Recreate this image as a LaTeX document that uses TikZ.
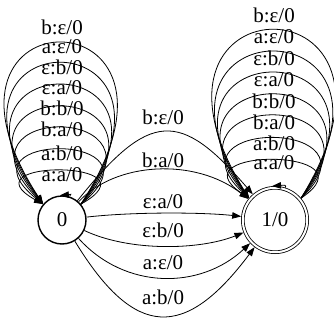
\documentclass[tikz,border=0pt]{standalone}
\usepackage{fontspec}
\setmainfont{Liberation Serif}
\usetikzlibrary{arrows.meta}

\begin{document}
\begin{tikzpicture}[x=1pt, y=1pt,
    state/.style={draw, circle, line width=1.4pt, minimum size=48pt, inner sep=0pt},
    accept/.style={draw, circle, double, double distance=2pt, line width=0.8pt,
      minimum size=64.4pt, outer sep=1.8pt, inner sep=0pt},
    edge/.style={line width=0.8pt, -{Triangle[length=9pt, width=6.5pt]}},
    lbl/.style={inner sep=0pt}]
    \useasboundingbox (0,0) rectangle (334,322);
    \tikzset{every node/.append style={font=\fontsize{21}{22}\selectfont}}

    % States
    \node[state] (s0) at (62,102) {0};
    \node[accept] (s1) at (275,102) {1/0};

    % Boucles sur l'etat 0
    \draw[edge] (s0.72) .. controls +(1,3) and +(12,1) .. (s0.95);
    \foreach \h/\dx in {45/81,73/91,102/101,130/110,159/120,188/130,215/140}
      \draw[edge] (s0.40) .. controls +(\dx,\h) and +(-\dx,\h) .. (s0.140);
    \foreach \lab/\y in {{a:a/0}/147,{a:b/0}/169,{b:a/0}/193,{b:b/0}/214,
                         {ε:a/0}/234,{ε:b/0}/255,{a:ε/0}/275,{b:ε/0}/295}
      \node[lbl] at (62,\y) {\lab};

    % Boucles sur l'etat 1/0
    \draw[edge] (s1.72) .. controls +(1,3) and +(12,1) .. (s1.95);
    \foreach \h/\dx in {51/76,80/86,110/97,138/107,167/117,195/128,224/138}
      \draw[edge] (s1.40) .. controls +(\dx,\h) and +(-\dx,\h) .. (s1.140);
    \foreach \lab/\y in {{a:a/0}/159,{a:b/0}/179,{b:a/0}/200,{b:b/0}/221,
                         {ε:a/0}/242,{ε:b/0}/264,{a:ε/0}/285,{b:ε/0}/307}
      \node[lbl] at (274,\y) {\lab};

    % Transitions de 0 vers 1/0
    \draw[edge] (s0) .. controls (150,212) and (180,212) .. (s1);
    \node[lbl] at (163,205) {b:ε/0};
    \draw[edge] (s0) .. controls (115,160) and (195,165) .. (s1);
    \node[lbl] at (163,162) {b:a/0};
    \draw[edge] (s0) .. controls (130,110) and (200,110) .. (s1);
    \node[lbl] at (163,120) {ε:a/0};
    \draw[edge] (s0) .. controls (130,70) and (200,72) .. (s1);
    \node[lbl] at (163,92) {ε:b/0};
    \draw[edge] (s0) .. controls (125,32) and (200,32) .. (s1);
    \node[lbl] at (163,59) {a:ε/0};
    \draw[edge] (s0) .. controls (135,-18) and (185,-18) .. (s1);
    \node[lbl] at (163,25) {a:b/0};
\end{tikzpicture}
\end{document}
